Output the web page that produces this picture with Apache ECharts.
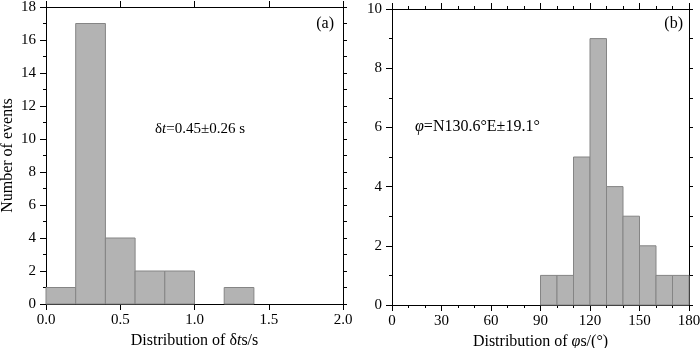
<!DOCTYPE html>
<html><head><meta charset="utf-8">
<script src="https://cdn.jsdelivr.net/npm/echarts@6/dist/echarts.min.js"></script>
<style>html,body{margin:0;padding:0;background:#fff}#c{width:700px;height:348px}</style>
</head><body><div id="c"></div>
<script>
// Panel (a): delay time histogram
const dtBinStarts = [0.0, 0.2, 0.4, 0.6, 0.8, 1.0, 1.2];
const dtCounts    = [1, 17, 4, 2, 2, 0, 1];
const dtBinWidth = 0.2;
const dtTicks = [0.0, 0.5, 1.0, 1.5, 2.0];
// Panel (b): fast polarization direction histogram
const phiBinStarts = [90, 100, 110, 120, 130, 140, 150, 160, 170];
const phiCounts    = [1, 1, 5, 9, 4, 3, 2, 1, 1];
const phiBinWidth = 10;
const phiTicks = [0, 30, 60, 90, 120, 150, 180];

const FONT = 'Liberation Serif';
const chart = echarts.init(document.getElementById('c'), null, {renderer: 'canvas'});

function bins(starts, counts, w) {
  const out = [];
  starts.forEach((s, i) => { if (counts[i] > 0) out.push([s, s + w, counts[i]]); });
  return out;
}
function renderBar(params, api) {
  const p0 = api.coord([api.value(0), api.value(2)]);
  const p1 = api.coord([api.value(1), 0]);
  return {type: 'rect',
    shape: {x: p0[0], y: p0[1], width: p1[0] - p0[0], height: p1[1] - p0[1]},
    style: {fill: '#b3b3b3', stroke: '#858585', lineWidth: 1}};
}
const axLine = {show: true, onZero: false, lineStyle: {color: '#000', width: 1}};
const lbl = {fontFamily: FONT, fontSize: 15, color: '#000'};
const nameStyle = {fontFamily: FONT, fontSize: 16, color: '#000',
  rich: {n: {fontFamily: FONT, fontSize: 16, color: '#000'},
         i: {fontFamily: FONT, fontSize: 16, color: '#000', fontStyle: 'italic'}}};
const tk = (len) => ({show: true, length: len, lineStyle: {color: '#000'}});

chart.setOption({
  animation: false,
  grid: [
    {left: 46, top: 7, width: 297, height: 297, outerBoundsMode: 'none', containLabel: false},
    {left: 392, top: 9, width: 297, height: 296, outerBoundsMode: 'none', containLabel: false}
  ],
  xAxis: [
    {type: 'value', gridIndex: 0, min: 0, max: 2, interval: 0.5, position: 'bottom',
     axisLine: axLine, axisTick: tk(6),
     axisLabel: Object.assign({margin: 9, formatter: v => v.toFixed(1)}, lbl),
     splitLine: {show: false},
     name: '{n|Distribution of δ}{i|t}{n|s/s}', nameLocation: 'middle', nameGap: 27, nameTextStyle: nameStyle},
    {type: 'value', gridIndex: 0, min: 0, max: 2, interval: 0.5, position: 'top',
     axisLine: axLine, axisTick: tk(6),
     axisLabel: {show: false}, splitLine: {show: false}},
    {type: 'value', gridIndex: 1, min: 0, max: 180, interval: 30, position: 'bottom',
     axisLine: axLine, axisTick: tk(6),
     minorTick: {show: true, splitNumber: 3, length: 3, lineStyle: {color: '#000'}},
     axisLabel: Object.assign({margin: 9}, lbl),
     splitLine: {show: false},
     name: '{n|Distribution of }{i|φ}{n|s/(°)}', nameLocation: 'middle', nameGap: 27, nameTextStyle: nameStyle},
    {type: 'value', gridIndex: 1, min: 0, max: 180, interval: 30, position: 'top',
     axisLine: axLine, axisTick: tk(6),
     minorTick: {show: true, splitNumber: 3, length: 3, lineStyle: {color: '#000'}},
     axisLabel: {show: false}, splitLine: {show: false}}
  ],
  yAxis: [
    {type: 'value', gridIndex: 0, min: 0, max: 18, interval: 2, position: 'left',
     axisLine: axLine, axisTick: tk(6),
     minorTick: {show: true, splitNumber: 2, length: 3, lineStyle: {color: '#000'}},
     axisLabel: Object.assign({margin: 10}, lbl), splitLine: {show: false},
     name: 'Number of events', nameLocation: 'middle', nameGap: 30, nameTextStyle: nameStyle},
    {type: 'value', gridIndex: 0, min: 0, max: 18, interval: 1, position: 'right',
     axisLine: axLine, axisTick: tk(4),
     axisLabel: {show: false}, splitLine: {show: false}},
    {type: 'value', gridIndex: 1, min: 0, max: 10, interval: 2, position: 'left',
     axisLine: axLine, axisTick: tk(6),
     minorTick: {show: true, splitNumber: 2, length: 3, lineStyle: {color: '#000'}},
     axisLabel: Object.assign({margin: 10}, lbl), splitLine: {show: false}},
    {type: 'value', gridIndex: 1, min: 0, max: 10, interval: 1, position: 'right',
     axisLine: axLine, axisTick: tk(4),
     axisLabel: {show: false}, splitLine: {show: false}}
  ],
  series: [
    {type: 'custom', xAxisIndex: 0, yAxisIndex: 0, renderItem: renderBar,
     encode: {x: [0, 1], y: 2}, data: bins(dtBinStarts, dtCounts, dtBinWidth)},
    {type: 'custom', xAxisIndex: 2, yAxisIndex: 2, renderItem: renderBar,
     encode: {x: [0, 1], y: 2}, data: bins(phiBinStarts, phiCounts, phiBinWidth)}
  ],
  graphic: [
    {type: 'text', right: 700 - 334, top: 16, style: {text: '(a)', font: '16px "Liberation Serif"', fill: '#000'}},
    {type: 'text', left: 155, top: 122, style: {
      text: '{n|δ}{i|t}{n|=0.45±0.26 s}',
      rich: {n: {fontFamily: FONT, fontSize: 15, fill: '#000'},
             i: {fontFamily: FONT, fontSize: 15, fill: '#000', fontStyle: 'italic'}}}},
    {type: 'text', right: 700 - 683, top: 16, style: {text: '(b)', font: '16px "Liberation Serif"', fill: '#000'}},
    {type: 'text', left: 415, top: 119, style: {
      text: '{i|φ}{n|=N130.6°E±19.1°}',
      rich: {n: {fontFamily: FONT, fontSize: 16, fill: '#000'},
             i: {fontFamily: FONT, fontSize: 16, fill: '#000', fontStyle: 'italic'}}}}
  ]
});
</script></body></html>
